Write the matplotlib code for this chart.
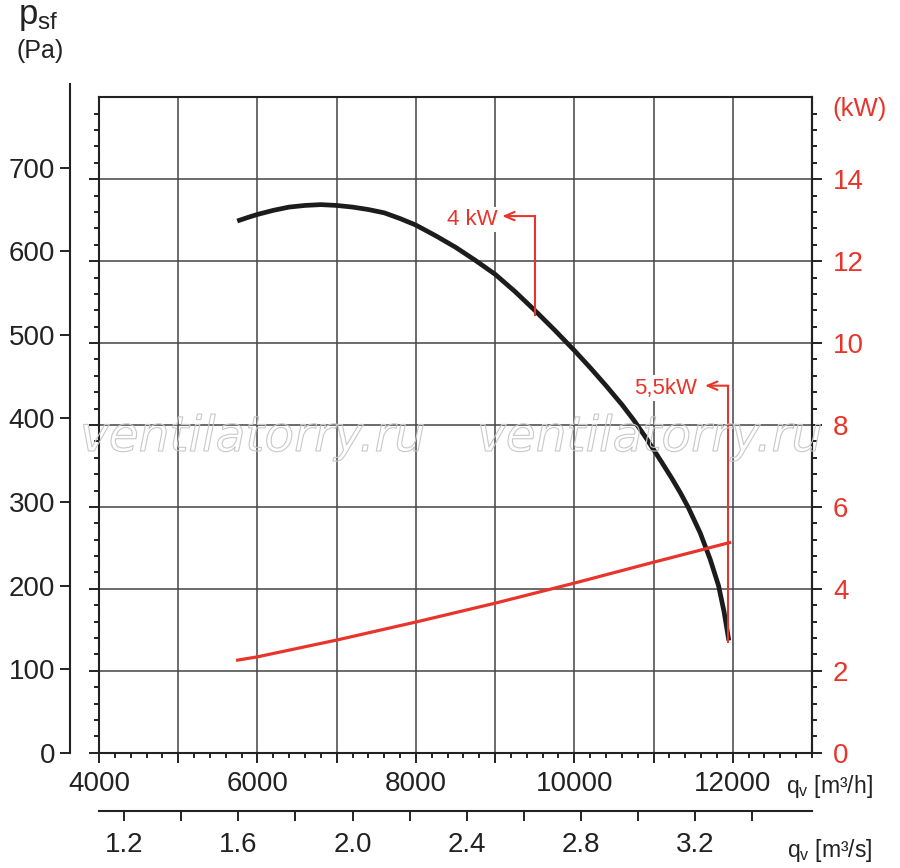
import numpy as np
import matplotlib
matplotlib.use("Agg")
import matplotlib.pyplot as plt
import matplotlib.patheffects as pe
from matplotlib.ticker import MultipleLocator, FixedLocator, FuncFormatter

# --- data ---
q_pressure = [5745, 5900, 6000, 6200, 6400, 6600, 6800, 7000, 7200, 7400, 7600, 7800,
              8000, 8250, 8500, 8750, 9000, 9250, 9500, 9750, 10000, 10200, 10400,
              10600, 10750, 10900, 11000, 11100, 11230, 11340, 11440, 11590, 11715,
              11820, 11890, 11950]
p_static = [649, 654, 657, 662, 666, 668, 669, 668, 666, 663, 659, 652,
            644, 631, 617, 601, 584, 563, 540, 516, 491, 470, 448,
            425, 406, 385, 370, 355, 335, 317, 299, 268, 236,
            204, 172, 137]

q_power = [5750, 6000, 7000, 8000, 9000, 10000, 11000, 11960]
power_kw = [2.26, 2.34, 2.75, 3.19, 3.65, 4.14, 4.65, 5.13]

pa_ticks = [0, 100, 200, 300, 400, 500, 600, 700]
kw_ticks = [0, 2, 4, 6, 8, 10, 12, 14]
qh_ticks = [4000, 5000, 6000, 7000, 8000, 9000, 10000, 11000, 12000]
qs_ticks = [1.2, 1.4, 1.6, 1.8, 2.0, 2.2, 2.4, 2.6, 2.8, 3.0, 3.2, 3.4]

RED = "#e8352c"
DARK = "#222222"
GRID = "#444444"
NUM_SIZE = 20

plt.rcParams["font.family"] = ["Liberation Sans", "DejaVu Sans"]
plt.rcParams["mathtext.default"] = "regular"

W, H = 900, 868
fig = plt.figure(figsize=(W / 100, H / 100), dpi=100)


def fx(px):
    return px / W


def fy(py):
    return 1 - py / H


# main plot frame
left, right, top, bottom = 99, 812, 97.3, 752.7
ax = fig.add_axes([fx(left), fy(bottom), fx(right - left), (bottom - top) / H])
ax.set_xlim(4000, 13000)
ax.set_ylim(0, 800)
ax.xaxis.set_major_locator(FixedLocator(qh_ticks))
ax.xaxis.set_minor_locator(MultipleLocator(200))
ax.yaxis.set_major_locator(FixedLocator(pa_ticks))
ax.yaxis.set_minor_locator(FixedLocator(np.arange(0, 800, 20)))
ax.xaxis.set_major_formatter(FuncFormatter(lambda v, p: f"{int(v)}" if int(v) % 2000 == 0 else ""))
ax.grid(True, which="major", color=GRID, lw=1.1)
ax.set_axisbelow(True)
for s in ax.spines.values():
    s.set_linewidth(1.5)
    s.set_color(DARK)
ax.tick_params(which="major", direction="out", length=7.2, width=1.4, color=DARK)
ax.tick_params(which="minor", direction="out", length=3.8, width=1.4, color=DARK)
ax.tick_params(axis="y", labelleft=False)
ax.tick_params(axis="x", labelsize=NUM_SIZE, pad=6, labelcolor=DARK)

ax.plot(q_pressure, p_static, color="#1c1c1c", lw=3.4, solid_capstyle="butt",
        solid_joinstyle="round", zorder=4)

# right axis, kW
ax2 = ax.twinx()
ax2.set_ylim(0, 16)
ax2.yaxis.set_major_locator(FixedLocator(kw_ticks))
ax2.yaxis.set_minor_locator(FixedLocator(np.arange(0, 16, 0.4)))
for k in ["left", "top", "bottom"]:
    ax2.spines[k].set_visible(False)
ax2.spines["right"].set_linewidth(1.5)
ax2.spines["right"].set_color(DARK)
ax2.tick_params(which="major", direction="out", length=7.2, width=1.4, color=DARK,
                labelsize=NUM_SIZE, labelcolor=RED, pad=8)
ax2.tick_params(which="minor", direction="out", length=3.8, width=1.4, color=DARK)
ax2.plot(q_power, power_kw, color=RED, lw=2.3, solid_joinstyle="round", zorder=3)

# annotations
ax.plot([9502, 9502], [534, 655], color=RED, lw=1.5, zorder=5)
ax.annotate("", xy=(9090, 655), xytext=(9503, 655),
            arrowprops=dict(arrowstyle="->,head_length=0.7,head_width=0.3", color=RED, lw=1.5,
                            shrinkA=0, shrinkB=0), zorder=5)
ax.text(9030, 651, "4 kW", color=RED, fontsize=16, ha="right", va="center", zorder=5,
        bbox=dict(boxstyle="square,pad=0.1", fc="white", ec="none"))

ax.plot([11942, 11942], [135, 448], color=RED, lw=1.5, zorder=5)
ax.annotate("", xy=(11650, 448), xytext=(11943, 448),
            arrowprops=dict(arrowstyle="->,head_length=0.7,head_width=0.3", color=RED, lw=1.5,
                            shrinkA=0, shrinkB=0), zorder=5)
ax.text(11550, 445, "5,5kW", color=RED, fontsize=16, ha="right", va="center", zorder=5,
        bbox=dict(boxstyle="square,pad=0.1", fc="white", ec="none"))

# separate left pressure scale
ax3 = fig.add_axes([fx(70), fy(bottom), 0.0001, (bottom - 84) / H])
ax3.set_ylim(0, 800)
ax3.set_xticks([])
ax3.yaxis.set_major_locator(FixedLocator(pa_ticks))
for k in ["right", "top", "bottom"]:
    ax3.spines[k].set_visible(False)
ax3.spines["left"].set_linewidth(1.5)
ax3.spines["left"].set_color(DARK)
ax3.patch.set_visible(False)
ax3.tick_params(axis="y", direction="out", length=7.2, width=1.4, color=DARK,
                labelsize=NUM_SIZE, labelcolor=DARK, pad=3.5)

# second flow scale, m3/s
ax4 = fig.add_axes([fx(left), fy(811), fx(right - left), 0.0001])
ax4.set_xlim(4000 / 3600, 13000 / 3600)
ax4.set_yticks([])
ax4.xaxis.set_major_locator(FixedLocator(qs_ticks))
ax4.xaxis.set_major_formatter(FuncFormatter(lambda v, p: f"{v:.1f}" if round(v * 10) % 4 == 0 else ""))
for k in ["left", "right", "top"]:
    ax4.spines[k].set_visible(False)
ax4.spines["bottom"].set_linewidth(1.5)
ax4.spines["bottom"].set_color(DARK)
ax4.patch.set_visible(False)
ax4.tick_params(axis="x", direction="out", length=7.2, width=1.4, color=DARK,
                labelsize=NUM_SIZE, labelcolor=DARK, pad=8)

# axis titles
fig.text(fx(18), fy(24), r"$\mathregular{p_{sf}}$", fontsize=25, color=DARK, va="baseline", ha="left")
fig.text(fx(17), fy(51), "(Pa)", fontsize=18, color=DARK, va="center", ha="left")
fig.text(fx(832), fy(109), "(kW)", fontsize=18.5, color=RED, va="center", ha="left")
fig.text(fx(786), fy(786), r"$\mathregular{q_v}$ [m³/h]", fontsize=16.5, color=DARK, va="center", ha="left")
fig.text(fx(787), fy(850), r"$\mathregular{q_v}$ [m³/s]", fontsize=16.5, color=DARK, va="center", ha="left")

# watermark
for x0 in (80, 477):
    fig.text(fx(x0), fy(451), "ventilatorry.ru", fontsize=35, family="DejaVu Sans", style="italic",
             color="none", ha="left", va="baseline", zorder=10,
             path_effects=[pe.withStroke(linewidth=0.8, foreground="#c8c8c8")])

fig.savefig("out.png", dpi=100)
